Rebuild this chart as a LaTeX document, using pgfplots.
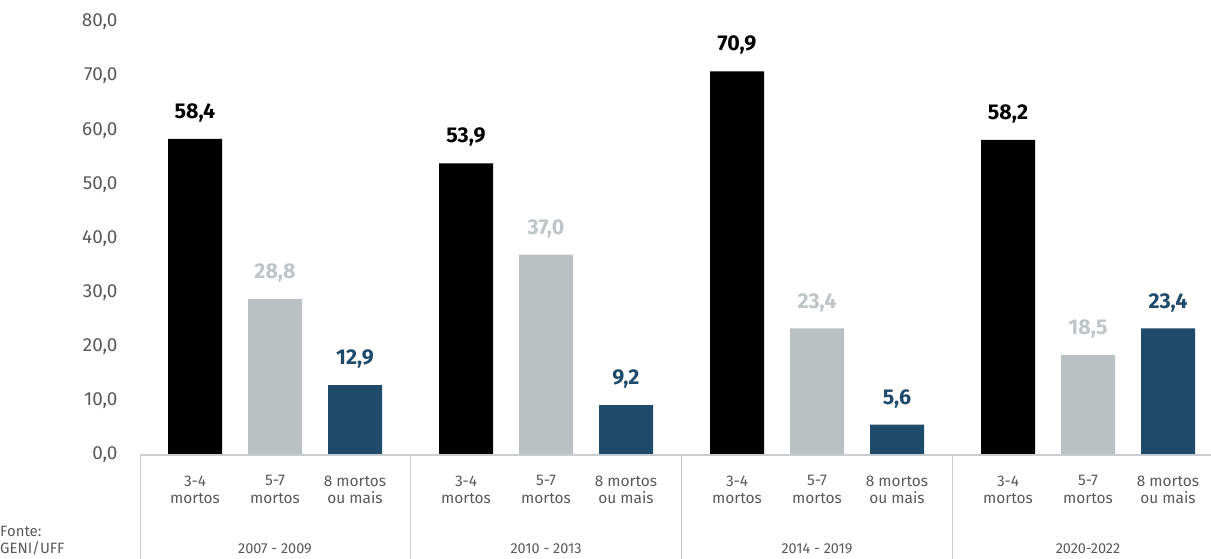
\documentclass[border=0pt]{standalone}
\usepackage{fontspec}
\setmainfont{Fira Sans}
\usepackage{pgfplots}
\pgfplotsset{compat=1.18}
\definecolor{bargray}{HTML}{BBC0C3}
\definecolor{labgray}{HTML}{BFC4C7}
\definecolor{barblue}{HTML}{1F4A6A}
\definecolor{tickgray}{HTML}{595959}
\definecolor{sepcol}{HTML}{C9CDD0}
\begin{document}
\begin{tikzpicture}
\path[use as bounding box] (0bp,0bp) rectangle (1211bp,559bp);
\begin{axis}[
  at={(140bp,104bp)}, anchor=south west,
  scale only axis, width=1071bp, height=433bp,
  xmin=140, xmax=1211, ymin=0, ymax=80,
  clip=false,
  axis line style={draw=none}, major tick length=0pt,
  ytick={0,10,...,80},
  xtick={195,275,355,466,546,626,737,817,897,1008,1088,1168},
  xticklabels={{3-4\\mortos},{5-7\\mortos},{8 mortos\\ou mais},
               {3-4\\mortos},{5-7\\mortos},{8 mortos\\ou mais},
               {3-4\\mortos},{5-7\\mortos},{8 mortos\\ou mais},
               {3-4\\mortos},{5-7\\mortos},{8 mortos\\ou mais}},
  xticklabel style={align=center, font=\fontsize{15.5}{17.5}\selectfont, text=tickgray, yshift=-17bp},
  yticklabel style={font=\fontsize{19}{19}\selectfont, text=tickgray, xshift=-19bp},
  /pgf/number format/.cd, fixed, fixed zerofill, precision=1, use comma, assume math mode=true,
  /pgfplots/.cd,
  every node near coord/.append style={font=\bfseries\fontsize{21.5}{21.5}\selectfont, yshift=13bp},
]
\addplot[ybar, bar width=54bp, bar shift=0pt, fill=black, draw=none,
  nodes near coords, every node near coord/.append style={text=black}]
  coordinates {(195,58.4) (466,53.9) (737,70.9) (1008,58.2)};
\addplot[ybar, bar width=54bp, bar shift=0pt, fill=bargray, draw=none,
  nodes near coords, every node near coord/.append style={text=labgray}]
  coordinates {(275,28.8) (546,37.0) (817,23.4) (1088,18.5)};
\addplot[ybar, bar width=54bp, bar shift=0pt, fill=barblue, draw=none,
  nodes near coords, every node near coord/.append style={text=barblue}]
  coordinates {(355,12.9) (626,9.2) (897,5.6) (1168,23.4)};
\draw[sepcol, line width=1.2bp] (axis cs:140,0) -- (axis cs:1211,0);
\draw[sepcol, line width=1bp] (axis cs:140,0) -- (axis cs:140,-19.5);
\draw[sepcol, line width=1bp] (axis cs:410,0) -- (axis cs:410,-19.5);
\draw[sepcol, line width=1bp] (axis cs:681,0) -- (axis cs:681,-19.5);
\draw[sepcol, line width=1bp] (axis cs:952,0) -- (axis cs:952,-19.5);
\node[font=\fontsize{14.5}{14.5}\selectfont, text=tickgray] at (axis cs:275,-17.4) {2007 - 2009};
\node[font=\fontsize{14.5}{14.5}\selectfont, text=tickgray] at (axis cs:546,-17.4) {2010 - 2013};
\node[font=\fontsize{14.5}{14.5}\selectfont, text=tickgray] at (axis cs:817,-17.4) {2014 - 2019};
\node[font=\fontsize{14.5}{14.5}\selectfont, text=tickgray] at (axis cs:1088,-17.4) {2020-2022};
\end{axis}
\node[anchor=west, align=left, inner sep=0pt, font=\fontsize{15}{17}\selectfont, text=tickgray] at (0bp,18.5bp) {Fonte:\\GENI/UFF};
\end{tikzpicture}
\end{document}
